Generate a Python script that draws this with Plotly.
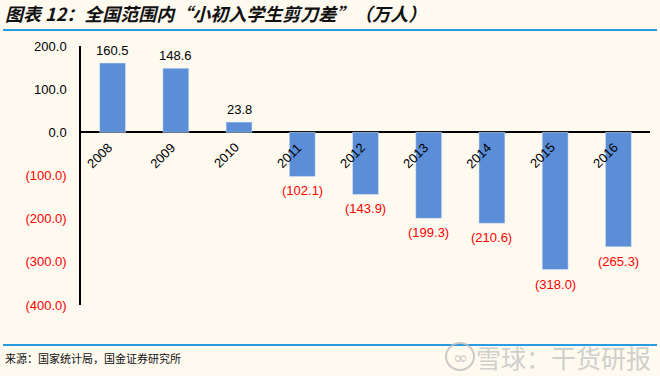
import plotly.graph_objects as go

years = ["2008", "2009", "2010", "2011", "2012", "2013", "2014", "2015", "2016"]
gap = [160.5, 148.6, 23.8, -102.1, -143.9, -199.3, -210.6, -318.0, -265.3]
ytick_vals = [200, 100, 0, -100, -200, -300, -400]

def fmt(v):
    return f"({abs(v):.1f})" if v < 0 else f"{v:.1f}"

labels = [fmt(v) for v in gap]
label_colors = ["#FF0000" if v < 0 else "#000000" for v in gap]
ytick_text = [f"<span style='color:#FF0000'>{fmt(v)}</span>" if v < 0 else fmt(v) for v in ytick_vals]
xpos = list(range(len(years)))

W, H = 660, 376
L, R, T, B = 81, 650, 46, 305

def px(x):
    return (x - L) / (R - L)

def py(y):
    return (B - y) / (B - T)

fig = go.Figure()
fig.add_trace(go.Bar(
    x=xpos, y=gap, marker=dict(color="#5B8ED6"), width=0.41,
    hoverinfo="skip"))

for i, yr in enumerate(years):
    fig.add_annotation(x=xpos[i], y=0, text=yr, showarrow=False, textangle=-45,
                       xshift=-13, yshift=-23,
                       font=dict(size=13, color="#000000", family="Liberation Sans, Arial"))
    v = gap[i]
    fig.add_annotation(x=xpos[i], y=v, text=labels[i], showarrow=False,
                       yanchor="bottom" if v >= 0 else "top",
                       yshift=3 if v >= 0 else -5,
                       font=dict(size=13, color=label_colors[i], family="Liberation Sans, Arial"))

fig.update_layout(
    width=W, height=H,
    margin=dict(l=L, r=W - R, t=T, b=H - B, autoexpand=False),
    paper_bgcolor="#FEFAF0", plot_bgcolor="#FEFAF0",
    showlegend=False,
    font=dict(family="Liberation Sans, Arial", size=13, color="#000000"),
    xaxis=dict(range=[-0.5, 8.5], showticklabels=False, showline=False, ticks="", showgrid=False,
               zeroline=False, automargin=False),
    yaxis=dict(range=[-400, 200], tickvals=ytick_vals, ticktext=ytick_text,
               showgrid=False, showline=True, linecolor="#000000", linewidth=1.5,
               zeroline=True, zerolinecolor="#000000", zerolinewidth=1.5,
               ticks="", ticklabelstandoff=10, automargin=False,
               tickfont=dict(size=13, family="Liberation Sans, Arial")),
)

# header / footer rules
fig.add_shape(type="line", xref="paper", yref="paper", x0=px(3), x1=px(657), y0=py(30), y1=py(30),
              line=dict(color="#2A9BE0", width=2))
fig.add_shape(type="line", xref="paper", yref="paper", x0=px(3), x1=px(657), y0=py(345), y1=py(345),
              line=dict(color="#2A9BE0", width=2))

fig.add_annotation(xref="paper", yref="paper", x=px(3), y=py(13), xanchor="left", yanchor="middle",
                   text="<b><i>图表 12：全国范围内“小初入学生剪刀差”（万人）</i></b>", showarrow=False,
                   font=dict(size=18, color="#111111", family="Noto Sans CJK SC"))
fig.add_annotation(xref="paper", yref="paper", x=px(3), y=py(358), xanchor="left", yanchor="middle",
                   text="来源：国家统计局，国金证券研究所", showarrow=False,
                   font=dict(size=11, color="#111111", family="Noto Sans CJK SC"))
# watermark
fig.add_shape(type="circle", xref="paper", yref="paper", x0=px(446), x1=px(474), y0=py(343), y1=py(370),
              line=dict(color="rgba(190,190,190,0.8)", width=2))
fig.add_annotation(xref="paper", yref="paper", x=px(460), y=py(357), xanchor="center", yanchor="middle",
                   text="∞", showarrow=False,
                   font=dict(size=18, color="rgba(190,190,190,0.8)", family="DejaVu Sans"))
fig.add_annotation(xref="paper", yref="paper", x=px(653), y=py(357), xanchor="right", yanchor="middle",
                   text="雪球：干货研报", showarrow=False,
                   font=dict(size=25, color="rgba(195,195,195,0.8)", family="Noto Sans CJK SC"))

fig.write_html("out.html", config={"displayModeBar": False},
               post_script="document.body.style.margin='0';document.body.style.background='#FEFAF0';")
